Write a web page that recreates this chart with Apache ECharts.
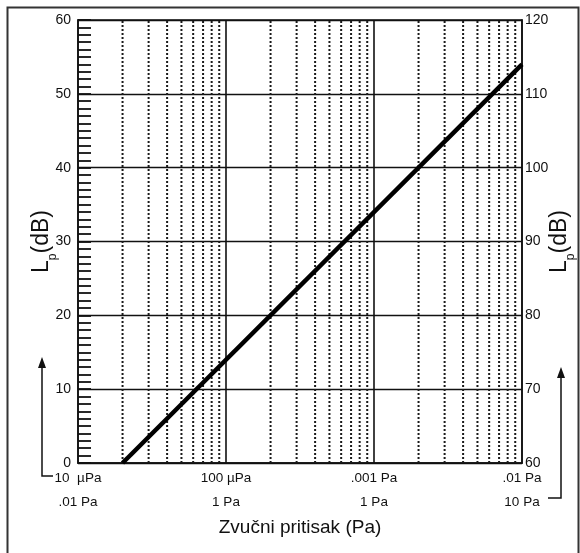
<!DOCTYPE html>
<html>
<head>
<meta charset="utf-8">
<script src="https://cdn.jsdelivr.net/npm/echarts@6/dist/echarts.min.js"></script>
<style>html,body{margin:0;padding:0;background:#fff}#c{width:580px;height:553px}</style>
</head>
<body>
<div id="c"></div>
<script>
// Decade tick labels (two rows)
var decadeValues = [1e-5, 1e-4, 1e-3, 1e-2];
var labelRow1 = ['10  \u00b5Pa', '100 \u00b5Pa', '.001 Pa', '.01 Pa'];
var labelRow2 = ['.01 Pa', '1 Pa', '1 Pa', '10 Pa'];
// Minor (dotted) grid positions: 2..9 within each decade
var minorMultipliers = [2, 3, 4, 5, 6, 7, 8, 9];
// Line: sound pressure (Pa) vs level (dB)
var pressures = [2e-5, 1e-2];
var levels = [0, 54];
var yMin = 0, yMax = 60;

var font = 'Liberation Sans, Arial, sans-serif';
var series = [];
decadeValues.slice(0, 3).forEach(function (d) {
  minorMultipliers.forEach(function (m) {
    series.push({ type: 'line', symbol: 'none', silent: true, z: 1,
      data: [[d * m, yMin], [d * m, yMax]],
      lineStyle: { type: [2, 2], width: 2, color: '#1a1a1a' } });
  });
});
decadeValues.slice(1, 3).forEach(function (d) {
  series.push({ type: 'line', symbol: 'none', silent: true, z: 1,
    data: [[d, yMin], [d, yMax]],
    lineStyle: { type: 'solid', width: 1.6, color: '#111' } });
});
series.push({
  type: 'line', symbol: 'none', silent: true, z: 5,
  data: pressures.map(function (p, i) { return [p, levels[i]]; }),
  lineStyle: { color: '#000', width: 4.5 }
});

var nameRich = {
  l: { fontFamily: font, fontSize: 23, color: '#111', lineHeight: 26, verticalAlign: 'bottom' },
  s: { fontFamily: font, fontSize: 12, color: '#111', lineHeight: 14, verticalAlign: 'bottom', padding: [0, 0, -6, 0] }
};

var chart = echarts.init(document.getElementById('c'));
chart.setOption({
  animation: false,
  backgroundColor: '#fff',
  grid: { left: 78, right: 58, top: 20, bottom: 90, show: true, borderColor: '#111', borderWidth: 1.6, outerBoundsMode: 'none', containLabel: false },
  xAxis: {
    type: 'log', logBase: 10, min: 1e-5, max: 1e-2,
    name: 'Zvu\u010dni pritisak (Pa)', nameLocation: 'middle', nameGap: 55, nameMoveOverlap: false,
    nameTextStyle: { fontFamily: font, fontSize: 19, color: '#111' },
    axisLine: { show: true, lineStyle: { color: '#111', width: 1.6 } },
    axisTick: { show: false },
    splitLine: { show: false },
    axisLabel: {
      margin: 3,
      formatter: function (v) {
        var i = decadeValues.findIndex(function (d) { return Math.abs(Math.log10(d) - Math.log10(v)) < 1e-6; });
        if (i < 0) return '';
        return '{a|' + labelRow1[i] + '}\n{b|' + labelRow2[i] + '}';
      },
      rich: {
        a: { fontFamily: font, fontSize: 13.5, color: '#111', lineHeight: 24 },
        b: { fontFamily: font, fontSize: 13.5, color: '#111', lineHeight: 24 }
      }
    }
  },
  yAxis: [{
    type: 'value', min: yMin, max: yMax, interval: 10,
    name: '{l|L}{s|p}{l|(dB)}', nameLocation: 'middle', nameGap: 38, nameRotate: 90, nameMoveOverlap: false,
    nameTextStyle: { rich: nameRich, align: 'center', verticalAlign: 'middle' },
    axisLine: { show: true, lineStyle: { color: '#111', width: 1.6 } },
    axisTick: { show: true, inside: true, length: 13, lineStyle: { color: '#111', width: 1.8 } },
    minorTick: { show: true, splitNumber: 10, length: 13, lineStyle: { color: '#111', width: 1.8 } },
    splitLine: { show: true, lineStyle: { color: '#111', width: 1.4 } },
    axisLabel: { fontFamily: font, fontSize: 14, color: '#111', margin: 7 }
  }, {
    type: 'value', min: 60, max: 120, interval: 10, position: 'right',
    name: '{l|L}{s|p}{l|(dB)}', nameLocation: 'middle', nameGap: 36, nameRotate: 90, nameMoveOverlap: false,
    nameTextStyle: { rich: nameRich, align: 'center', verticalAlign: 'middle' },
    axisLine: { show: true, lineStyle: { color: '#111', width: 1.6 } },
    axisTick: { show: false },
    splitLine: { show: false },
    axisLabel: { fontFamily: font, fontSize: 14, color: '#111', margin: 3 }
  }],
  series: series,
  graphic: [
    { type: 'rect', shape: { x: 7.5, y: 7.5, width: 571, height: 560 }, style: { fill: 'none', stroke: '#333', lineWidth: 2 } },
    // left arrow
    { type: 'polyline', shape: { points: [[53, 476], [42, 476], [42, 364]] }, style: { fill: 'none', stroke: '#111', lineWidth: 1.5 } },
    { type: 'polygon', shape: { points: [[42, 357], [38, 368], [46, 368]] }, style: { fill: '#111' } },
    // right arrow
    { type: 'polyline', shape: { points: [[548, 498], [561, 498], [561, 374]] }, style: { fill: 'none', stroke: '#111', lineWidth: 1.5 } },
    { type: 'polygon', shape: { points: [[561, 367], [557, 378], [565, 378]] }, style: { fill: '#111' } }
  ]
});
</script>
</body>
</html>
